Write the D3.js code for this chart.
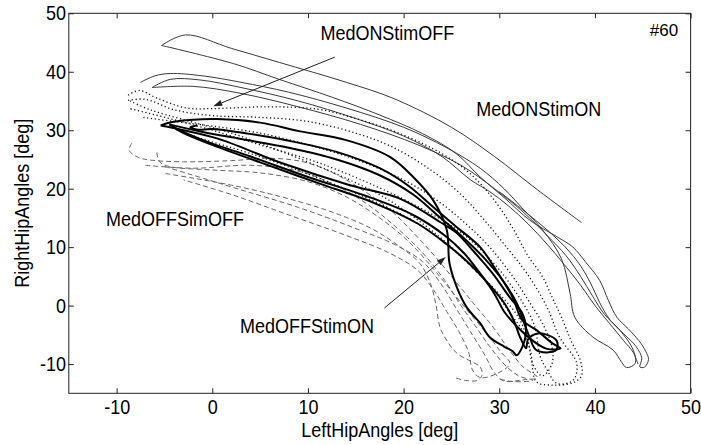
<!DOCTYPE html>
<html>
<head>
<meta charset="utf-8">
<script src="https://cdn.jsdelivr.net/npm/d3@7"></script>
<style>
  body { margin: 0; background: #fff; }
  svg text { font-family: "Liberation Sans", Arial, Helvetica, sans-serif; }
</style>
</head>
<body>
<svg class="hips" width="701" height="445"></svg>
<script>
// axis ticks
const xTicks = [-10, 0, 10, 20, 30, 40, 50];
const yTicks = [-10, 0, 10, 20, 30, 40, 50];

// MedONStimON (thin solid)
const onOn1 = [[-5.3,44.5],[-2.8,46.3],[2,44],[7,41.6],[14,38.2],[19,35.4],[25,30.5],[29.5,25.5],[34,19.8],[38.6,14.2]];
const onOn2 = [[-5.3,44.5],[2.2,41.4],[7,38.7],[12.6,35.6],[17.5,32.6],[22,29.4],[25.5,26],[28,22],[30.5,18.5],[33.2,14.6],[36,11.8],[37.7,10],[39,7.5],[40.5,4.3],[41.4,0.9],[42.3,-2],[43.5,-4],[44.6,-6],[45.3,-7.8],[45.6,-9.2],[45.2,-10.5],[44.7,-10.5],[44.9,-9],[44.3,-7],[43,-4.8],[41.6,-2.5],[40.5,0.5],[39.5,4],[38.2,7.5],[36.3,11],[33.5,15],[30,19.5]];
const onOn3 = [[-7.5,38.2],[-6,39.3],[-4.4,39.7],[-1,39.3],[3,38.2],[8,36.5],[14,33.8],[20,30.5],[24.5,27],[28,23.5],[30.5,20],[32.5,16.5],[34.5,13],[36.5,8],[37.4,2.1],[37.9,-2],[39.8,-5.4],[41.9,-7.6],[42.8,-9.7],[43.3,-10.6],[44.2,-9.9],[44,-7.6],[42.6,-4.2],[41,-1.5],[39.8,1.5],[38.5,5],[37,8.5],[35,12],[32.5,16],[29.5,20],[26,24],[21.5,27.5],[15.5,31],[9,34],[3,36.3],[-2,37.5],[-6.3,37.3]];
const onOn4 = [[-6.3,37.3],[-4.4,38.7],[-1.3,38.6],[3,37.3],[9,35],[15,32],[20,29],[24,25.5],[27,21.5],[29,19.5],[31,17],[33,14],[35,10.5],[36.8,7],[38.5,3.5],[40,0],[41.5,-3],[43,-6],[44,-8],[44.5,-10]];

// MedONStimOFF (dotted)
const onOff1 = [[-8.8,36],[-7.6,36.8],[-5.8,35.5],[-2.7,33.8],[0,33.7],[5.7,34],[11,33.6],[15,32],[19.5,29.5],[24,26],[27,22.5],[29.5,18],[31.5,13],[33,8.5],[34.5,5],[35.5,1.5],[36.5,-2],[37.5,-6],[38.5,-9.5],[38.6,-12],[37.7,-13.2],[35.6,-13.6],[33.9,-13.1],[33.5,-11],[33.3,-8],[32.5,-4.5],[31,-1],[29.5,2.5],[27.5,6],[25,10],[22,14],[18,18.5],[13,22.5],[7,26.5],[2,29.5],[-3,31.8],[-6.5,33.5],[-8.6,35]];
const onOff2 = [[-8.8,35.1],[-7,35.3],[-4,33.5],[0,32.5],[5,32.2],[10,31.5],[15,29.5],[19,27],[23,23],[26,19],[28.5,14.5],[31,9.5],[32.9,5.5],[35,-0.3],[36.3,-5.4],[38.1,-9.9],[37.7,-12.8],[36,-13.3],[35,-11],[34.3,-8.8],[33.6,-3.1],[31.4,3.1],[29,8],[26,12.5],[22,16.5],[17,20.5],[11,24.5],[5,27.5],[0,30],[-4,31.8],[-8.6,33.7]];
const onOff3 = [[-7.2,32.2],[-4,31.5],[0,30.7],[5,29.5],[10,27.5],[15,25],[20,21.5],[23.5,18],[26.5,14],[29,10],[31.4,5],[33,1],[34.5,-3],[35.5,-7],[35.5,-10],[34.5,-12],[33.5,-10],[33,-6],[32,-2],[30,2],[27.5,6],[24.5,10.5],[21,14.5],[16,18.5],[10,22.5],[4,26],[-1,28.5],[-4.4,30.5]];

// MedOFFSimOFF (dashed)
const offOff1 = [[-8.4,27.8],[-8.7,26.6],[-7.8,25.4],[-6.5,24.9],[-3,24.6],[2,24.8],[6,25.2],[9.5,24.6],[12.5,22.8],[15.5,20],[18.5,16.5],[21,12.5],[23.5,8],[25.5,4],[27.5,0],[29.5,-4],[31,-7.5],[32.5,-10.5],[34,-12.3],[32.5,-12.7],[30.5,-12.9],[29.5,-11.5],[28.5,-8.5],[27,-4.5],[25.5,-0.5],[24,3.5],[22,7.5],[19,10.5],[14.5,13.5],[9,16.8],[3,19.8],[-2,22.3],[-5,23.8]];
const offOff2 = [[-5.8,26.2],[-5.5,24.6],[-4.5,23.8],[0,23.2],[5,22.7],[10,21.2],[14,18.6],[17.5,15],[20.5,11],[23,6.5],[25,2.5],[27,-1.5],[28.8,-5],[30.2,-8],[31.1,-9.9],[29.8,-11.6],[28,-12.3],[27.2,-11],[26.8,-8],[25.8,-4.5],[24.5,-1],[23.2,2.5],[21.5,6],[18.5,9],[14,12],[8,15.5],[2,19],[-3,21.5]];
const offOff3 = [[-4.9,22.6],[-2,21.8],[2,20.6],[7,18.7],[12,16.3],[16.5,13.3],[19.5,10.2],[21.7,7.2],[22.8,3.8],[23.4,0],[23.8,-3.7],[24.6,-6.2],[25.6,-8.2],[27,-9.5],[28,-10.5],[28.2,-11.9],[27.7,-12.8],[26.5,-12.8],[25.3,-12.3]];
const offOff4 = [[-7,24],[-2,23.5],[4,24],[9,23],[13,20.5],[16.5,17],[19.5,13],[22,9],[24.3,4.3],[26,0],[27.5,-3.5],[29,-7],[30.5,-10],[32,-12],[33.5,-12.8],[31.5,-13],[29.8,-12.5]];

// MedOFFStimON (thick solid)
const offOn1 = [[-5.4,30.8],[-4.2,31.4],[-2,31.8],[0.5,31.9],[5,31.3],[9.2,29.8],[14,28.3],[18.6,25.4],[21,22],[23.1,18],[24.5,13],[24.8,7.2],[25.6,3],[26.6,-0.3],[28,-3],[29,-5.4],[30.5,-7],[31.4,-7.8],[31.8,-8.5],[32.4,-7.1],[32.8,-4.2],[32.4,-1.3],[31.1,1.4],[29.3,5.5],[27.2,9.5],[25.5,12.5],[23.8,14.3],[19.6,18.3],[14.4,20.6],[7.4,24.3],[0.5,28.6],[-3,30],[-5.4,30.8]];
const offOn2 = [[-1.6,30.8],[-2.3,30.5],[-1.5,30.1],[0,30.2],[3,29.6],[8,28.2],[13,26.3],[17.5,23.5],[20.5,20.5],[23,17],[25.5,13.5],[28,10],[29.5,6.5],[31.4,1.4],[32.4,-2.5],[33.9,-4.2],[35.6,-6.5],[36.4,-7.3],[35,-7.4],[33.5,-6],[31.8,-3.5],[30.5,-1],[29.5,2],[28,5.5],[26.3,9],[24.3,12],[21,15.5],[16,18.8],[10,22],[4,25.5],[0,27.7],[-2,29],[-4,30.5]];
const offOn3 = [[-4.5,31],[-1,29.7],[3,28.5],[8,27],[13,25],[17.5,22.3],[21,19],[23.5,15.5],[26,12],[28.5,8],[30.5,4],[31.8,0.5],[32.6,-3],[33.2,-5.5],[33.8,-7.5],[35,-8],[36,-7.5],[36,-6],[35,-5],[33.9,-4.8],[33,-5.8],[32.8,-7.3],[32.2,-5.5],[31.5,-2.5],[30.5,0.5],[29,3.5],[27,7],[24.5,10.5],[21.5,14],[17,17.5],[11,21],[5,24.5],[0,27.5],[-3,29.5],[-4.5,31]];

// text annotations, positions in data units
const labels = [
    { text: 'MedONStimOFF', at: [11.3, 45.4] },
    { text: 'MedONStimON', at: [27.6, 32.4] },
    { text: 'MedOFFSimOFF', at: [-11.1, 13.6] },
    { text: 'MedOFFStimON', at: [2.9, -4.7] }
];
const arrows = [
    { from: [12.8, 42.5], to: [0.1, 34.1] },
    { from: [18.0, -0.4], to: [24.4, 8.3] }
];

const svg = d3.select('.hips');
const margin = { top: 13.3, right: 10.4, bottom: 51.7, left: 68.8 };
const width = +svg.attr('width');
const height = +svg.attr('height');
const innerWidth = width - margin.left - margin.right;
const innerHeight = height - margin.top - margin.bottom;

// the reference font looks narrow, so squeeze text a bit sideways
const squeeze = 'scale(0.9,1)';
const fontSize = '20px';

const x = d3.scaleLinear().domain([-15, 50]).range([0, innerWidth]);
const y = d3.scaleLinear().domain([-15, 50]).range([innerHeight, 0]);

const g = svg.append('g')
    .attr('transform', `translate(${margin.left}, ${margin.top})`);

const line = d3.line()
    .x(d => x(d[0]))
    .y(d => y(d[1]))
    .curve(d3.curveCatmullRom.alpha(0.5));

const groups = [
    { curves: [offOff1, offOff2, offOff3, offOff4], stroke: '#666', width: 1, dash: '5,3' },
    { curves: [onOn1, onOn2, onOn3, onOn4], stroke: '#3a3a3a', width: 1, dash: null },
    { curves: [onOff1, onOff2, onOff3], stroke: '#111', width: 1.3, dash: '1.2,2.6' },
    { curves: [offOn1, offOn2, offOn3], stroke: '#000', width: 2, dash: null }
];

const plot = g.append('g');
groups.forEach(grp => {
    plot.append('g')
        .selectAll('path')
        .data(grp.curves)
        .join('path')
        .attr('d', line)
        .attr('fill', 'none')
        .attr('stroke', grp.stroke)
        .attr('stroke-width', grp.width)
        .attr('stroke-dasharray', grp.dash)
        .attr('stroke-linejoin', 'round');
});

// axes, matlab style: inward ticks on all four sides
const plain = d => String(d);

g.append('g')
    .attr('transform', `translate(0, ${innerHeight})`)
    .call(d3.axisBottom(x).tickValues(xTicks).tickFormat(plain).tickSizeInner(-5).tickSizeOuter(0).tickPadding(7))
    .call(a => a.select('.domain').remove())
    .selectAll('text')
    .style('font-size', fontSize)
    .attr('fill', '#000')
    .attr('transform', squeeze);

g.append('g')
    .call(d3.axisLeft(y).tickValues(yTicks).tickFormat(plain).tickSizeInner(-5).tickSizeOuter(0).tickPadding(3))
    .call(a => a.select('.domain').remove())
    .selectAll('text')
    .style('font-size', fontSize)
    .attr('fill', '#000')
    .attr('transform', squeeze);

g.append('g')
    .call(d3.axisTop(x).tickValues(xTicks).tickSizeInner(-5).tickSizeOuter(0).tickFormat(''))
    .call(a => a.select('.domain').remove());

g.append('g')
    .attr('transform', `translate(${innerWidth}, 0)`)
    .call(d3.axisRight(y).tickValues(yTicks).tickSizeInner(-5).tickSizeOuter(0).tickFormat(''))
    .call(a => a.select('.domain').remove());

g.selectAll('.tick line').attr('stroke', '#222');

g.append('rect')
    .attr('width', innerWidth)
    .attr('height', innerHeight)
    .attr('fill', 'none')
    .attr('stroke', '#222')
    .attr('stroke-width', 1);

// axis titles
g.append('text')
    .attr('transform', `translate(${innerWidth / 2}, ${innerHeight + 44}) ${squeeze}`)
    .attr('text-anchor', 'middle')
    .style('font-size', fontSize)
    .text('LeftHipAngles [deg]');

g.append('text')
    .attr('transform', `translate(${22 - margin.left}, ${innerHeight / 2}) rotate(-90) ${squeeze}`)
    .attr('text-anchor', 'middle')
    .attr('dy', '0.35em')
    .style('font-size', fontSize)
    .text('RightHipAngles [deg]');

// annotations
g.append('g')
    .selectAll('text')
    .data(labels)
    .join('text')
    .attr('transform', d => `translate(${x(d.at[0])}, ${y(d.at[1])}) ${squeeze}`)
    .style('font-size', fontSize)
    .text(d => d.text);

g.append('text')
    .attr('x', x(48.7))
    .attr('y', y(46.2))
    .attr('text-anchor', 'end')
    .style('font-size', '17px')
    .text('#60');

const arrowG = g.append('g');
arrows.forEach(a => {
    const x1 = x(a.from[0]), y1 = y(a.from[1]);
    const x2 = x(a.to[0]), y2 = y(a.to[1]);
    const ang = Math.atan2(y2 - y1, x2 - x1);
    const len = 9, half = 3;
    const bx = x2 - len * Math.cos(ang), by = y2 - len * Math.sin(ang);
    arrowG.append('line')
        .attr('x1', x1).attr('y1', y1).attr('x2', bx).attr('y2', by)
        .attr('stroke', '#222').attr('stroke-width', 1);
    arrowG.append('polygon')
        .attr('points', [
            [x2, y2],
            [bx + half * Math.sin(ang), by - half * Math.cos(ang)],
            [bx - half * Math.sin(ang), by + half * Math.cos(ang)]
        ].map(p => p.join(',')).join(' '))
        .attr('fill', '#222');
});
</script>
</body>
</html>
